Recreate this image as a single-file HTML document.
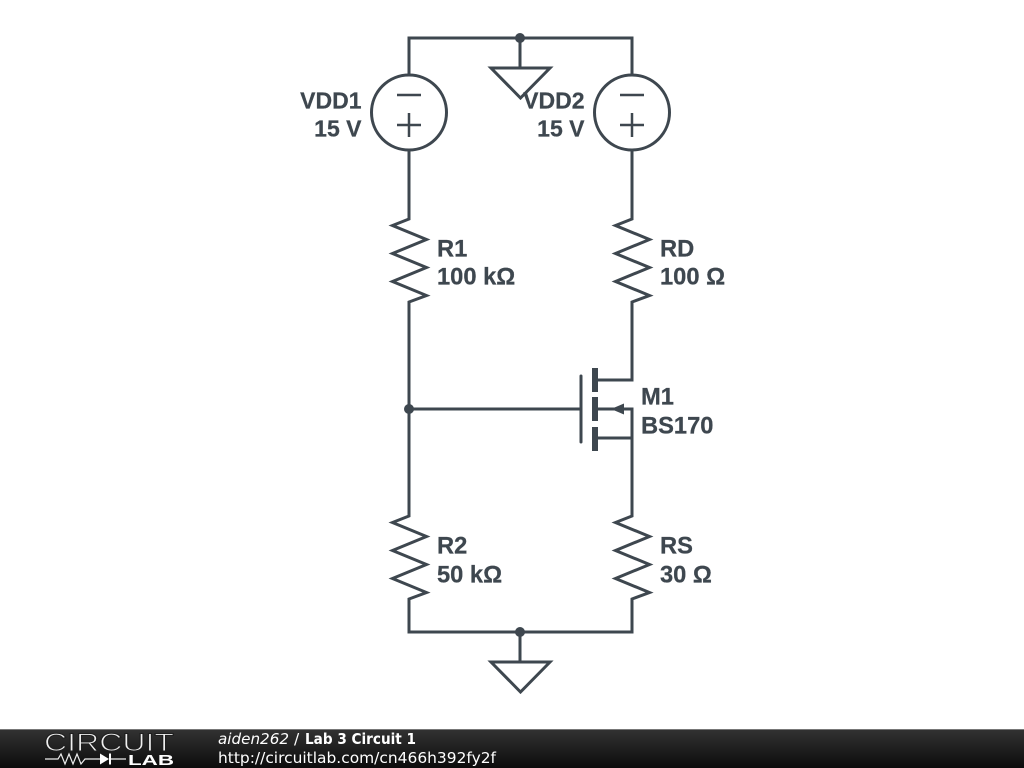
<!DOCTYPE html>
<html>
<head>
<meta charset="utf-8">
<style>
html,body{margin:0;padding:0;background:#fff;width:1024px;height:768px;overflow:hidden}
svg{position:absolute;left:0;top:0}
.l{font-family:"Liberation Sans",sans-serif;font-weight:bold;font-size:23.7px;fill:#3e474f;stroke:#3e474f;stroke-width:.25px}
.v{font-size:23px}
.f{font-family:"DejaVu Sans",sans-serif;font-size:15.4px;fill:#fff}
</style>
</head>
<body>
<svg width="1024" height="768" viewBox="0 0 1024 768" xmlns="http://www.w3.org/2000/svg">
<defs>
<linearGradient id="g" x1="0" y1="0" x2="0" y2="1"><stop offset="0" stop-color="#333"/><stop offset="1" stop-color="#0c0c0c"/></linearGradient>
</defs>
<g fill="none" stroke="#3e474f" stroke-width="3" stroke-linejoin="miter">
<!-- top rail -->
<path d="M409 75V38H632V75"/>
<path d="M520 38V68"/>
<path d="M491 68H550L520.500 98Z"/>
<!-- sources -->
<circle cx="409" cy="112.500" r="37.500"/>
<circle cx="632" cy="112.500" r="37.500"/>
<g stroke-width="2.500">
<path d="M397 95H421M397 125H421M409 113V137"/>
<path d="M620 95H644M620 125H644M632 113V137"/>
</g>
<!-- R1 -->
<path d="M409 150V219L392.500 225.500L426.500 239.500L392.500 253.500L426.500 267.500L392.500 281.500L426.500 295.500L409 302V409"/>
<!-- RD -->
<path d="M632 150V219L615.500 225.500L649.500 239.500L615.500 253.500L649.500 267.500L615.500 281.500L649.500 295.500L632 302V380H595"/>
<!-- gate -->
<path d="M409 409H581"/>
<path d="M581 376V442" stroke-linecap="round"/>
<!-- R2 / RS -->
<path d="M409 409V516L392.500 522.500L426.500 536.500L392.500 550.500L426.500 564.500L392.500 578.500L426.500 592.500L409 599V632H632V599L649.500 592.500L615.500 578.500L649.500 564.500L615.500 550.500L649.500 536.500L615.500 522.500L632 516V409H612"/>
<path d="M595 438H632"/>
<path d="M595 409H612"/>
<!-- bottom ground -->
<path d="M520 632V662"/>
<path d="M491 662H550L520.500 692Z"/>
</g>
<g fill="#3e474f">
<rect x="592" y="368" width="6" height="24"/>
<rect x="592" y="397" width="6" height="24"/>
<rect x="592" y="427" width="6" height="24"/>
<path d="M611 409L624 403.500V414.500Z"/>
<circle cx="520" cy="38" r="5"/>
<circle cx="409" cy="409" r="5"/>
<circle cx="520" cy="632" r="5"/>
</g>
<text class="l v" x="361.500" y="108.500" text-anchor="end">VDD1</text>
<text class="l v" x="361.500" y="136.500" text-anchor="end">15 V</text>
<text class="l v" x="584.500" y="108.500" text-anchor="end">VDD2</text>
<text class="l v" x="584.500" y="136.500" text-anchor="end">15 V</text>
<text class="l" x="437" y="256.500">R1</text>
<text class="l" x="437" y="284.500">100 kΩ</text>
<text class="l" x="660" y="256.500">RD</text>
<text class="l" x="660" y="284.500">100 Ω</text>
<text class="l" x="641" y="404.500">M1</text>
<text class="l" x="641" y="433.500">BS170</text>
<text class="l" x="437" y="553.500">R2</text>
<text class="l" x="437" y="582.500">50 kΩ</text>
<text class="l" x="660" y="553.500">RS</text>
<text class="l" x="660" y="582.500">30 Ω</text>
<!-- footer -->
<rect x="0" y="729" width="1024" height="39" fill="url(#g)"/>
<rect x="0" y="729" width="1024" height="1" fill="#777"/>
<text x="44" y="751" font-family="Liberation Sans,sans-serif" font-size="25" fill="#f0f0f0" stroke="#1f1f1f" stroke-width="1" textLength="130" lengthAdjust="spacingAndGlyphs">CIRCUIT</text>
<path d="M45 759H58L61 754L65 764L69 754L73 764L77 754L81 764L85 759H100M110 759H126" fill="none" stroke="#eee" stroke-width="1.200"/>
<path d="M100 753.500V764.500L109 759Z" fill="#fff"/>
<rect x="109" y="753.500" width="2" height="11" fill="#fff"/>
<text x="128" y="765" font-family="Liberation Sans,sans-serif" font-weight="bold" font-size="15" fill="#fff" textLength="46" lengthAdjust="spacingAndGlyphs">LAB</text>
<text class="f" x="218" y="744" font-style="italic" textLength="71" lengthAdjust="spacingAndGlyphs">aiden262</text>
<text class="f" x="294" y="744">/</text>
<text class="f" x="305" y="744" font-weight="bold" textLength="111" lengthAdjust="spacingAndGlyphs">Lab 3 Circuit 1</text>
<text class="f" x="218" y="763" textLength="278" lengthAdjust="spacingAndGlyphs">http://circuitlab.com/cn466h392fy2f</text>
</svg>
</body>
</html>
